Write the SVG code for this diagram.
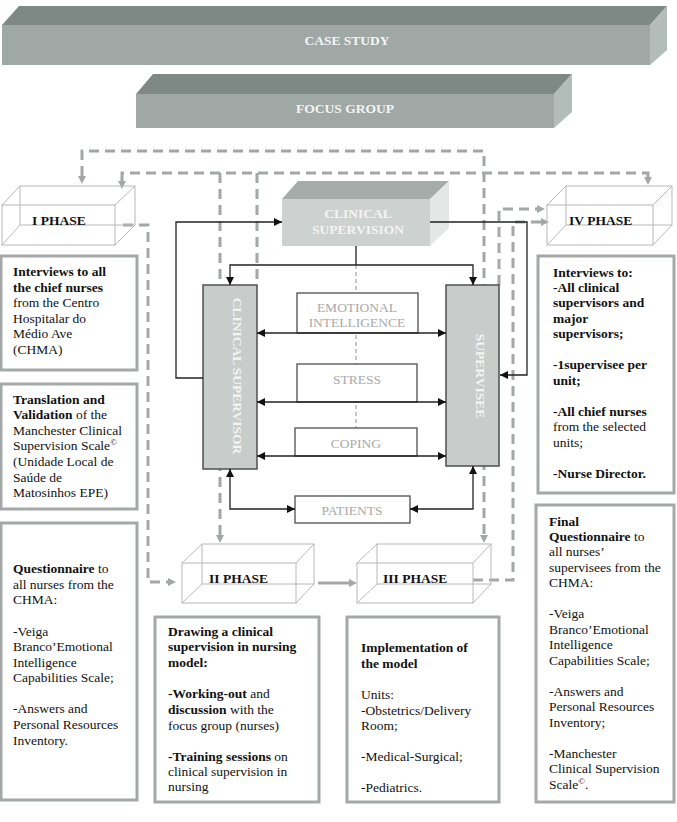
<svg xmlns="http://www.w3.org/2000/svg" width="677" height="822" viewBox="0 0 677 822">
<style>
text{font-family:"Liberation Serif","Times New Roman",serif;font-size:13.5px;fill:#111}
.b{font-weight:bold}
.wt{fill:#f4f4f4;font-weight:bold;text-anchor:middle}
.ft{fill:#a9a9a9;text-anchor:middle}
.info{fill:#fff;stroke:#a4a9a7;stroke-width:3}
.wire{fill:none;stroke:#b8b8b8;stroke-width:1}
.gd{fill:none;stroke:#a3a8a6;stroke-width:3;stroke-dasharray:10 6}
.ld{fill:none;stroke:#b5b5b5;stroke-width:1.5;stroke-dasharray:4 3}
.sl{fill:none;stroke:#222;stroke-width:1.3}
.gbox{fill:#c8cccb;stroke:#4f4f4f;stroke-width:1.5}
.fbox{fill:#fff;stroke:#4f4f4f;stroke-width:1.3}
</style>
<defs>
<marker id="ab" viewBox="0 0 10 10" refX="10" refY="5" markerWidth="8" markerHeight="8" markerUnits="userSpaceOnUse" orient="auto-start-reverse"><path d="M0,0 L10,5 L0,10 z" fill="#111"/></marker>
<marker id="ag" viewBox="0 0 10 10" refX="0" refY="5" markerWidth="8" markerHeight="8" markerUnits="userSpaceOnUse" orient="auto-start-reverse"><path d="M0,0 L10,5 L0,10 z" fill="#a3a8a6"/></marker>
</defs>
<rect width="677" height="822" fill="#fff"/>

<g id="case-study">
<polygon points="2,25 19,6 667,6 650,25" fill="#7e8985"/>
<polygon points="650,25 667,6 667,50 650,65" fill="#b3bcb9"/>
<rect x="2" y="25" width="648" height="40" fill="#9fa8a5"/>
<text x="347" y="45" class="wt">CASE STUDY</text>
</g>
<g id="focus-group">
<polygon points="136,94 153,74 572,74 554,94" fill="#7e8985"/>
<polygon points="554,94 572,74 572,112 554,128" fill="#b3bcb9"/>
<rect x="136" y="94" width="418" height="34" fill="#9fa8a5"/>
<text x="345" y="113" class="wt">FOCUS GROUP</text>
</g>

<g id="connectors-dashed">
<path class="gd" d="M82,176 V151 H484 V535" marker-start="url(#ag)" marker-end="url(#ag)"/>
<path class="gd" d="M122,181 V173 H648 V177" marker-start="url(#ag)" marker-end="url(#ag)"/>
<path class="gd" d="M220,173 V535" marker-end="url(#ag)"/>
<path class="gd" d="M257,173 V285"/>
<path class="gd" d="M499,285 V209 H537" marker-end="url(#ag)"/>
<path class="gd" d="M473,580 H513 V222 H541" marker-end="url(#ag)"/>
<path class="gd" d="M123,225 H148 V582 H168" marker-end="url(#ag)"/>
<path d="M318,583 H349" fill="none" stroke="#a3a8a6" stroke-width="3" marker-end="url(#ag)"/>
<path class="ld" d="M356,265 V428"/>
</g>

<g id="phase-1">
<rect class="wire" x="20" y="186" width="115" height="39"/>
<rect class="wire" x="2" y="205" width="113" height="40"/>
<path class="wire" d="M2,205 L20,186 M115,205 L135,186 M115,245 L135,225 M2,245 L20,225"/>
<text x="32" y="225" class="b">I PHASE</text>
</g>
<g id="phase-4">
<rect class="wire" x="566" y="186" width="106" height="39"/>
<rect class="wire" x="547" y="205" width="106" height="40"/>
<path class="wire" d="M547,205 L566,186 M653,205 L672,186 M653,245 L672,225 M547,245 L566,225"/>
<text x="569" y="225" class="b">IV PHASE</text>
</g>
<g id="phase-2">
<rect class="wire" x="202" y="544" width="112" height="40"/>
<rect class="wire" x="182" y="563" width="114" height="40"/>
<path class="wire" d="M182,563 L202,544 M296,563 L314,544 M296,603 L314,584 M182,603 L202,584"/>
<text x="209" y="583" class="b">II PHASE</text>
</g>
<g id="phase-3">
<rect class="wire" x="377" y="544" width="114" height="40"/>
<rect class="wire" x="357" y="563" width="116" height="40"/>
<path class="wire" d="M357,563 L377,544 M473,563 L491,544 M473,603 L491,584 M357,603 L377,584"/>
<text x="383" y="583" class="b">III PHASE</text>
</g>

<g id="clinical-supervision">
<polygon points="282,199 298,181 449,181 430,199" fill="#a6acaa"/>
<polygon points="430,199 449,181 449,228 430,246" fill="#e4e7e6"/>
<rect x="282" y="199" width="148" height="47" fill="#cdd1d0"/>
<text x="358" y="218" class="wt">CLINICAL</text>
<text x="358" y="234" class="wt">SUPERVISION</text>
</g>
<g id="clinical-supervisor">
<rect class="gbox" x="203" y="285" width="54" height="184"/>
<text class="wt" transform="translate(232.5,376) rotate(90)" x="0" y="0">CLINICAL SUPERVISOR</text>
</g>
<g id="supervisee">
<rect class="gbox" x="446" y="285" width="53" height="181"/>
<text class="wt" transform="translate(475.5,376) rotate(90)" x="0" y="0">SUPERVISEE</text>
</g>
<g id="emotional-intelligence">
<rect class="fbox" x="297" y="293" width="121" height="40"/>
<text x="357" y="311.5" class="ft">EMOTIONAL</text>
<text x="357" y="326.5" class="ft">INTELLIGENCE</text>
</g>
<g id="stress">
<rect class="fbox" x="297" y="364" width="120" height="38"/>
<text x="357" y="383.5" class="ft">STRESS</text>
</g>
<g id="coping">
<rect class="fbox" x="295" y="428" width="122" height="28"/>
<text x="356" y="447.5" class="ft">COPING</text>
</g>
<g id="patients">
<rect class="fbox" x="295" y="496" width="115" height="27"/>
<text x="352" y="514.5" class="ft">PATIENTS</text>
</g>

<g id="connectors">
<path class="sl" d="M203,378 H176 V222 H282" marker-end="url(#ab)"/>
<path class="sl" d="M430,222 H527 V375 H500" marker-end="url(#ab)"/>
<path class="sl" d="M356,246 V265"/>
<path class="sl" d="M230,285 V265 H473 V285" marker-start="url(#ab)" marker-end="url(#ab)"/>
<path class="sl" d="M257,333 H446" marker-start="url(#ab)" marker-end="url(#ab)"/>
<path class="sl" d="M257,402 H446" marker-start="url(#ab)" marker-end="url(#ab)"/>
<path class="sl" d="M257,456 H446" marker-start="url(#ab)" marker-end="url(#ab)"/>
<path class="sl" d="M230,469 V509 H295" marker-start="url(#ab)" marker-end="url(#ab)"/>
<path class="sl" d="M473,466 V509 H410" marker-start="url(#ab)" marker-end="url(#ab)"/>
</g>

<g id="info-phase1-interviews">
<rect class="info" x="1" y="256" width="136" height="114"/>
<text x="13" y="276" class="b">Interviews to all</text>
<text x="13" y="292" class="b">the chief nurses</text>
<text x="13" y="307">from the Centro</text>
<text x="13" y="323">Hospitalar do</text>
<text x="13" y="338">Médio Ave</text>
<text x="13" y="354">(CHMA)</text>
</g>
<g id="info-phase1-translation">
<rect class="info" x="1" y="384" width="136" height="125"/>
<text x="13" y="404" class="b">Translation and</text>
<text x="13" y="419"><tspan class="b">Validation</tspan> of the</text>
<text x="13" y="435">Manchester Clinical</text>
<text x="13" y="450">Supervision Scale<tspan font-size="9" dy="-5">©</tspan></text>
<text x="13" y="466">(Unidade Local de</text>
<text x="13" y="482">Saúde de</text>
<text x="13" y="497">Matosinhos EPE)</text>
</g>
<g id="info-phase1-questionnaire">
<rect class="info" x="1" y="523" width="136" height="277"/>
<text x="13" y="573"><tspan class="b">Questionnaire</tspan> to</text>
<text x="13" y="589">all nurses from the</text>
<text x="13" y="604">CHMA:</text>
<text x="13" y="636">-Veiga</text>
<text x="13" y="651">Branco’Emotional</text>
<text x="13" y="667">Intelligence</text>
<text x="13" y="682">Capabilities Scale;</text>
<text x="13" y="713">-Answers and</text>
<text x="13" y="729">Personal Resources</text>
<text x="13" y="745">Inventory.</text>
</g>
<g id="info-phase2">
<rect class="info" x="155" y="617" width="164" height="185"/>
<text x="168" y="636" class="b">Drawing a clinical</text>
<text x="168" y="651" class="b">supervision in nursing</text>
<text x="168" y="667" class="b">model:</text>
<text x="168" y="698"><tspan class="b">-Working-out</tspan> and</text>
<text x="168" y="714"><tspan class="b">discussion</tspan> with the</text>
<text x="168" y="730">focus group (nurses)</text>
<text x="168" y="761"><tspan class="b">-Training sessions</tspan> on</text>
<text x="168" y="776">clinical supervision in</text>
<text x="168" y="791">nursing</text>
</g>
<g id="info-phase3">
<rect class="info" x="347" y="617" width="152" height="185"/>
<text x="361" y="652" class="b">Implementation of</text>
<text x="361" y="668" class="b">the model</text>
<text x="361" y="699">Units:</text>
<text x="361" y="715">-Obstetrics/Delivery</text>
<text x="361" y="730">Room;</text>
<text x="361" y="761">-Medical-Surgical;</text>
<text x="361" y="792">-Pediatrics.</text>
</g>
<g id="info-phase4-interviews">
<rect class="info" x="538" y="256" width="136" height="237"/>
<text x="553" y="277" class="b">Interviews to:</text>
<text x="553" y="292" class="b">-All clinical</text>
<text x="553" y="307" class="b">supervisors and</text>
<text x="553" y="323" class="b">major</text>
<text x="553" y="338" class="b">supervisors;</text>
<text x="553" y="369" class="b">-1supervisee per</text>
<text x="553" y="385" class="b">unit;</text>
<text x="553" y="416" class="b">-All chief nurses</text>
<text x="553" y="431">from the selected</text>
<text x="553" y="447">units;</text>
<text x="553" y="478" class="b">-Nurse Director.</text>
</g>
<g id="info-phase4-questionnaire">
<rect class="info" x="536" y="505" width="138" height="297"/>
<text x="549" y="526" class="b">Final</text>
<text x="549" y="541"><tspan class="b">Questionnaire</tspan> to</text>
<text x="549" y="556">all nurses’</text>
<text x="549" y="572">supervisees from the</text>
<text x="549" y="587">CHMA:</text>
<text x="549" y="618">-Veiga</text>
<text x="549" y="634">Branco’Emotional</text>
<text x="549" y="649">Intelligence</text>
<text x="549" y="665">Capabilities Scale;</text>
<text x="549" y="696">-Answers and</text>
<text x="549" y="711">Personal Resources</text>
<text x="549" y="727">Inventory;</text>
<text x="549" y="758">-Manchester</text>
<text x="549" y="773">Clinical Supervision</text>
<text x="549" y="789">Scale<tspan font-size="9" dy="-5">©</tspan><tspan dy="5">.</tspan></text>
</g>
</svg>
